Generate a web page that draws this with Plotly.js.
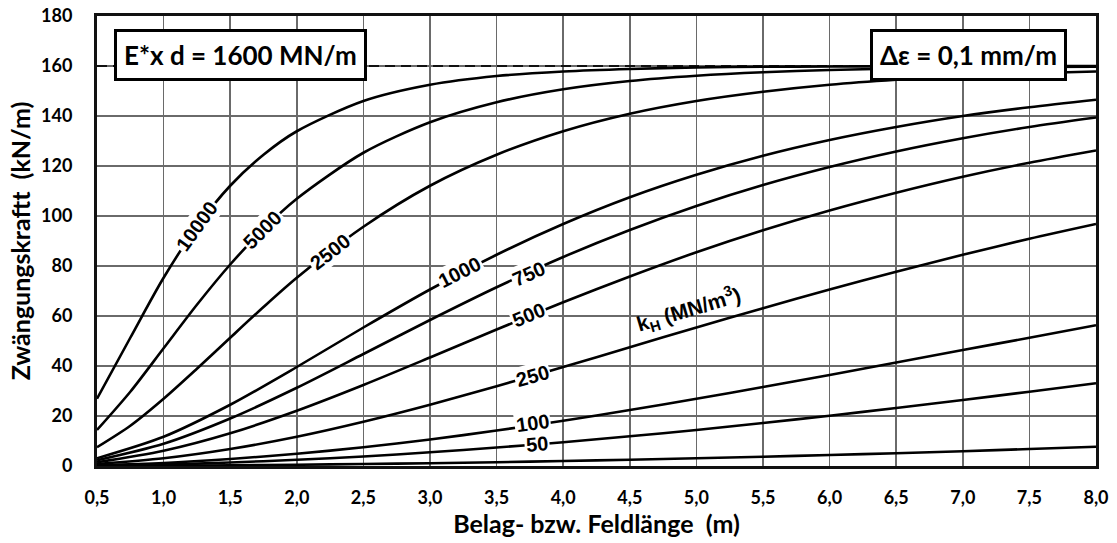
<!DOCTYPE html>
<html>
<head>
<meta charset="utf-8">
<script src="https://cdn.plot.ly/plotly-3.0.1.min.js"></script>
<style>
  html, body { margin: 0; padding: 0; background: #fff; }
  #chart { width: 1117px; height: 543px; }
</style>
</head>
<body>
<div id="chart"></div>
<script>
// Belag- bzw. Feldlänge (m)
const xFine = [0.5, 0.75, 1.0, 1.25, 1.5, 1.75, 2.0, 2.5, 3.0, 3.5, 4.0, 4.5, 5.0, 5.5, 6.0, 6.5, 7.0, 7.5, 8.0];
const xStd  = [0.5, 1.0, 1.5, 2.0, 2.5, 3.0, 3.5, 4.0, 4.5, 5.0, 5.5, 6.0, 6.5, 7.0, 7.5, 8.0];

// Zwängungskraft (kN/m) for k_H (MN/m³)
const k10000 = [26.9, 51.3, 75.3, 95.7, 112.1, 124.5, 133.9, 146.0, 152.5, 156.0, 157.8, 158.8, 159.4, 159.7, 159.8, 159.9, 160.0, 160.0, 160.0];
const k5000  = [14.4, 29.7, 47.1, 64.5, 80.6, 94.8, 106.9, 125.3, 137.5, 145.5, 150.7, 154.0, 156.1, 157.5, 158.4, 159.0, 159.3, 159.6, 159.7];
const k2500  = [7.5, 16.1, 26.9, 38.9, 51.3, 63.6, 75.3, 95.7, 112.1, 124.5, 133.9, 140.9, 146.0, 149.7, 152.5, 154.5, 156.0, 157.1, 157.8];
const k1000  = [3.1, 11.7, 24.5, 39.6, 55.4, 70.6, 84.5, 96.8, 107.5, 116.5, 124.1, 130.4, 135.6, 140.0, 143.5, 146.5];
const k750   = [2.3, 8.9, 19.0, 31.3, 44.8, 58.4, 71.5, 83.6, 94.4, 104.0, 112.4, 119.6, 125.8, 131.1, 135.6, 139.4];
const k500   = [1.5, 6.1, 13.1, 22.1, 32.4, 43.4, 54.6, 65.5, 75.8, 85.5, 94.3, 102.2, 109.3, 115.7, 121.3, 126.2];
const k250   = [0.8, 3.1, 6.8, 11.7, 17.7, 24.5, 31.9, 39.6, 47.5, 55.4, 63.1, 70.6, 77.7, 84.5, 90.9, 96.8];
const k100   = [0.3, 1.2, 2.8, 4.9, 7.5, 10.6, 14.2, 18.1, 22.4, 26.9, 31.6, 36.4, 41.4, 46.4, 51.3, 56.3];
const k50    = [0.2, 0.6, 1.4, 2.5, 3.8, 5.5, 7.4, 9.5, 11.9, 14.4, 17.2, 20.1, 23.2, 26.4, 29.7, 33.1];
const k10    = [0.0, 0.1, 0.3, 0.5, 0.8, 1.1, 1.5, 2.0, 2.5, 3.1, 3.7, 4.4, 5.1, 5.9, 6.8, 7.7];

// Grenzwert E*d*Δε
const limitX = [0.5, 8.0];
const limitY = [160, 160];

const yTicks = [0, 20, 40, 60, 80, 100, 120, 140, 160, 180];

const series = [
  { name: '10000', x: xFine, y: k10000 },
  { name: '5000',  x: xFine, y: k5000 },
  { name: '2500',  x: xFine, y: k2500 },
  { name: '1000',  x: xStd,  y: k1000 },
  { name: '750',   x: xStd,  y: k750 },
  { name: '500',   x: xStd,  y: k500 },
  { name: '250',   x: xStd,  y: k250 },
  { name: '100',   x: xStd,  y: k100 },
  { name: '50',    x: xStd,  y: k50 },
  { name: '10',    x: xStd,  y: k10 }
];

const traces = [{
  x: limitX, y: limitY, mode: 'lines', type: 'scatter',
  line: { color: '#111', width: 2.2, dash: '10px,6px' }, hoverinfo: 'skip'
}];
series.forEach(s => traces.push({
  x: s.x, y: s.y, name: s.name, type: 'scatter', mode: 'lines',
  line: { color: '#000', width: 2.6, shape: 'spline', smoothing: 0.8 }
}));

const lblFont = { family: 'Liberation Sans, Arial, sans-serif', size: 20, color: '#000', weight: 'bold' };
function lbl(text, x, y, ang) {
  return { text: text, x: x, y: y, xref: 'x', yref: 'y', showarrow: false,
           textangle: ang, font: lblFont, bgcolor: '#fff', borderpad: 1,
           xanchor: 'center', yanchor: 'middle' };
}

const boxFont = { family: 'Lato, sans-serif', size: 26, color: '#000', weight: 'bold' };

const annotations = [
  lbl('10000', 1.25, 96.0, -54),
  lbl('5000', 1.74, 94.5, -45),
  lbl('2500', 2.25, 85.6, -38),
  lbl('1000', 3.225, 77.8, -27),
  lbl('750', 3.74, 77.0, -24),
  lbl('500', 3.74, 60.5, -22),
  lbl('250', 3.77, 36.0, -16),
  lbl('100', 3.77, 17.3, -8),
  lbl('50', 3.80, 8.8, -5),
  { text: 'k<sub>H</sub> (MN/m<sup>3</sup>)', x: 4.94, y: 62.5, xref: 'x', yref: 'y',
    showarrow: false, textangle: -16.5,
    font: { family: 'Liberation Sans, Arial, sans-serif', size: 21, color: '#000', weight: 'bold' },
    xanchor: 'center', yanchor: 'middle' },
  { text: 'E*x d = 1600 MN/m', x: 1.581, y: 164.4, xref: 'x', yref: 'y', showarrow: false,
    font: boxFont, bgcolor: '#fff', bordercolor: '#000', borderwidth: 3, borderpad: 7,
    xanchor: 'center', yanchor: 'middle' },
  { text: 'Δε = 0,1 mm/m', x: 7.04, y: 164.4, xref: 'x', yref: 'y', showarrow: false,
    font: boxFont, bgcolor: '#fff', bordercolor: '#000', borderwidth: 3, borderpad: 7,
    xanchor: 'center', yanchor: 'middle' }
];

const tickFont = { family: 'Lato, sans-serif', size: 18, color: '#000', weight: 'bold' };
const titleFont = { family: 'Lato, sans-serif', size: 25, color: '#000', weight: 'bold' };

const layout = {
  width: 1117, height: 543,
  margin: { l: 97, r: 21, t: 16, b: 77 },
  paper_bgcolor: '#fff', plot_bgcolor: '#fff',
  separators: ',.',
  showlegend: false,
  font: { family: 'Lato, sans-serif', color: '#000' },
  xaxis: {
    range: [0.5, 8.0], dtick: 0.5, tick0: 0.5, tickformat: '.1f',
    showgrid: true, gridcolor: '#6a6a6a', gridwidth: 1.5,
    zeroline: false, showline: true, linecolor: '#111', linewidth: 3, mirror: true,
    ticks: 'outside', ticklen: 13, tickcolor: 'rgba(0,0,0,0)',
    tickfont: tickFont,
    title: { text: 'Belag- bzw. Feldlänge&nbsp; (m)', font: titleFont, standoff: 6 }
  },
  yaxis: {
    range: [0, 180], tickvals: yTicks,
    showgrid: true, gridcolor: '#6a6a6a', gridwidth: 1.5,
    zeroline: false, showline: true, linecolor: '#111', linewidth: 3, mirror: true,
    ticks: 'outside', ticklen: 18, tickcolor: 'rgba(0,0,0,0)',
    tickfont: tickFont,
    title: { text: 'Zwängungskraftt&nbsp; (kN/m)', font: titleFont, standoff: 4 }
  },
  annotations: annotations
};

Plotly.newPlot('chart', traces, layout, { staticPlot: true, displayModeBar: false });
</script>
</body>
</html>
